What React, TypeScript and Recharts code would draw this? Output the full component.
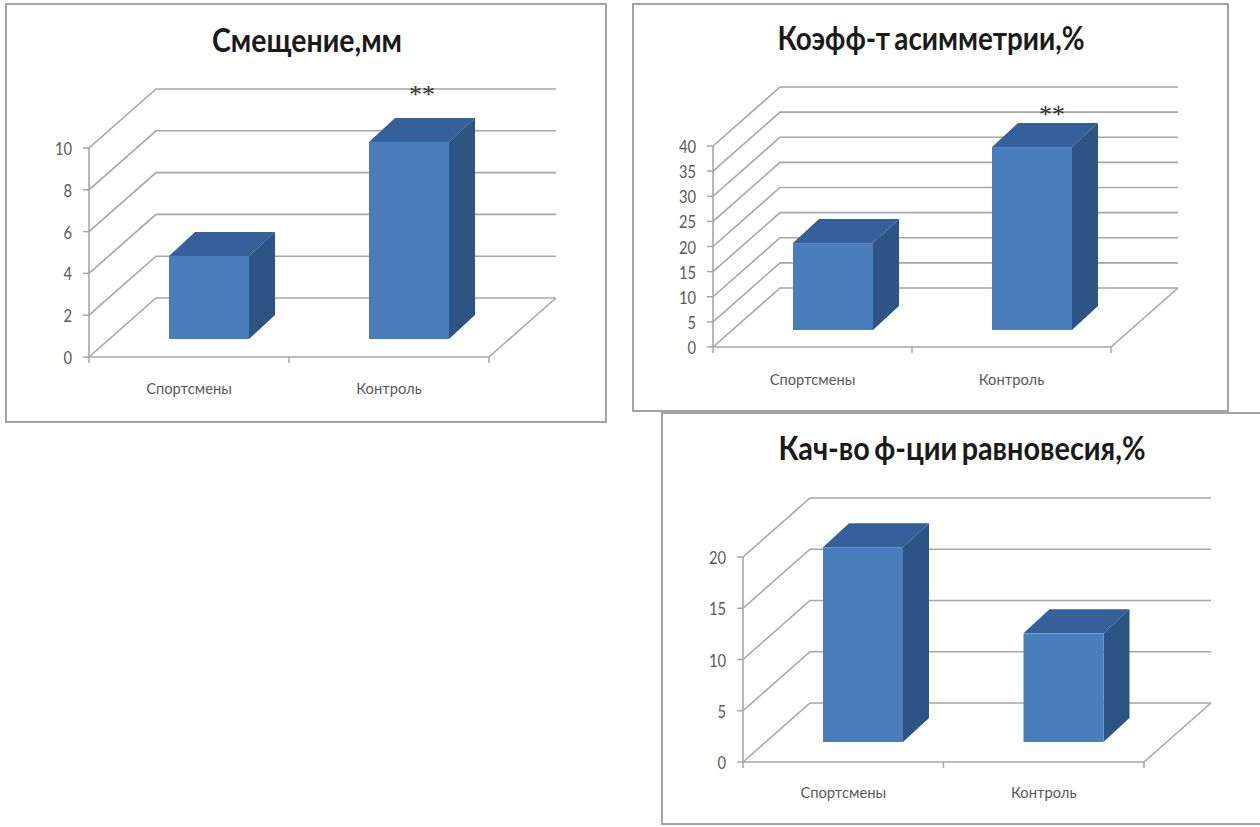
import { BarChart, Bar, CartesianGrid, LabelList, XAxis, YAxis } from 'recharts';

const categories = ['Спортсмены', 'Контроль'];
const significance = ['', '**'];

const displacementValues = [3.97, 9.43];
const displacementTicks = [0, 2, 4, 6, 8, 10];

const asymmetryValues = [17.3, 36.4];
const asymmetryTicks = [0, 5, 10, 15, 20, 25, 30, 35, 40];

const balanceValues = [19.0, 10.6];
const balanceTicks = [0, 5, 10, 15, 20];

const FRONT = '#4a7ebb';
const TOP = '#35609a';
const SIDE = '#2e5485';
const LINE = '#a6a6a6';
const TEXT = '#595959';
const FONT = 'Lato, "Open Sans", sans-serif';

// floor and wall depth of the pseudo-3D box
const WALL_DX = 67;
const WALL_DY = 59;
// bars stand halfway into the floor
const BAR_SHIFT_X = 20;
const BAR_DX = 26;
const BAR_DY = 24;

function Bar3D({ x, y, width, height, lift }: any) {
  const l = x + BAR_SHIFT_X;
  const r = l + width;
  const t = y - lift;
  const b = t + height;
  return (
    <g>
      <polygon points={`${l},${t} ${r},${t} ${r + BAR_DX},${t - BAR_DY} ${l + BAR_DX},${t - BAR_DY}`} fill={TOP} />
      <polygon points={`${r},${t} ${r + BAR_DX},${t - BAR_DY} ${r + BAR_DX},${b - BAR_DY} ${r},${b}`} fill={SIDE} />
      <rect x={l} y={t} width={width} height={height} fill={FRONT} />
    </g>
  );
}

function WallLine({ x1, x2, y1, floorY }: any) {
  const backY = y1 - WALL_DY;
  const isFloor = Math.abs(y1 - floorY) < 1;
  return (
    <g>
      <polyline
        points={`${x1},${y1} ${x1 + WALL_DX},${backY} ${x2 + WALL_DX},${backY}`}
        fill="none"
        stroke={LINE}
        strokeWidth={1.6}
      />
      {isFloor && <line x1={x2} y1={y1} x2={x2 + WALL_DX} y2={backY} stroke={LINE} strokeWidth={1.6} />}
    </g>
  );
}

function ValueTick({ x, y, payload }: any) {
  return (
    <text
      transform={`translate(${x - 9},${y + 7}) scale(0.82,1)`}
      textAnchor="end"
      fontFamily={FONT}
      fontSize={18}
      fill={TEXT}
    >
      {payload.value}
    </text>
  );
}

function CategoryTick({ x, y, index, payload, band, labelDy }: any) {
  return (
    <g>
      <line x1={x - band / 2} y1={y - 8} x2={x - band / 2} y2={y - 2} stroke={LINE} strokeWidth={1.5} />
      {index === categories.length - 1 && (
        <line x1={x + band / 2} y1={y - 8} x2={x + band / 2} y2={y - 2} stroke={LINE} strokeWidth={1.5} />
      )}
      <text
        transform={`translate(${x},${y + labelDy}) scale(0.92,1)`}
        textAnchor="middle"
        fontFamily={FONT}
        fontSize={16}
        fill={TEXT}
      >
        {payload.value}
      </text>
    </g>
  );
}

function Panel({ title, values, ticks, frame, plot, titleAt, mark, labelDy, lift }: any) {
  const frameW = frame.right - frame.left;
  const frameH = frame.bottom - frame.top;
  const rows = categories.map((name, i) => ({ name, value: values[i], mark: significance[i] }));
  const floorY = plot.bottom - frame.top;
  const band = (plot.right - plot.left) / categories.length;
  return (
    <div
      style={{
        position: 'absolute',
        left: frame.left,
        top: frame.top,
        width: frameW,
        height: frameH,
        boxSizing: 'border-box',
        border: '2px solid #a3a3a3',
        background: '#fff',
      }}
    >
      <BarChart
        width={frameW - 4}
        height={frameH - 4}
        data={rows}
        barSize={80}
        margin={{
          top: plot.top - frame.top - 2,
          right: frame.right - plot.right - 2,
          bottom: 0,
          left: 0,
        }}
      >
        <text
          transform={`translate(${titleAt.x - frame.left - 2},${titleAt.y - frame.top - 2}) scale(${titleAt.sx},1)`}
          textAnchor="middle"
          fontFamily={FONT}
          fontWeight={700}
          fontSize={32}
          wordSpacing={-3}
          fill="#1a1a1a"
        >
          {title}
        </text>
        <CartesianGrid
          vertical={false}
          horizontal={(p: any) => <WallLine key={p.y1} {...p} floorY={floorY - 2} />}
        />
        <XAxis
          dataKey="name"
          height={frame.bottom - plot.bottom - 2}
          tickLine={false}
          axisLine={{ stroke: LINE, strokeWidth: 1.6 }}
          interval={0}
          tick={(p: any) => <CategoryTick {...p} band={band} labelDy={labelDy} />}
        />
        <YAxis
          domain={[0, ticks[ticks.length - 1]]}
          ticks={ticks}
          width={plot.left - frame.left - 2}
          tickSize={6}
          tickLine={{ stroke: LINE, strokeWidth: 1.5 }}
          axisLine={{ stroke: LINE, strokeWidth: 1.6 }}
          tick={<ValueTick />}
        />
        <Bar dataKey="value" isAnimationActive={false} shape={(p: any) => <Bar3D {...p} lift={lift} />}>
          {mark && (
            <LabelList
              dataKey="mark"
              content={(p: any) =>
                p.value ? (
                  <text
                    x={p.x + mark.dx}
                    y={p.y + mark.dy}
                    textAnchor="middle"
                    fontFamily='"Liberation Serif", serif'
                    fontSize={26}
                    fill="#333"
                  >
                    {p.value}
                  </text>
                ) : null
              }
            />
          )}
        </Bar>
      </BarChart>
    </div>
  );
}

export default function App() {
  return (
    <div style={{ position: 'absolute', left: 0, top: 0, width: 1260, height: 827, background: '#fff', overflow: 'hidden' }}>
      <Panel
        title="Смещение,мм"
        values={displacementValues}
        ticks={displacementTicks}
        frame={{ left: 5, top: 3, right: 607, bottom: 423 }}
        plot={{ left: 89, top: 148, right: 489, bottom: 357 }}
        titleAt={{ x: 307, y: 52, sx: 0.89 }}
        mark={{ dx: 73, dy: -57 }}
        labelDy={29}
        lift={18}
      />
      <Panel
        title="Коэфф-т асимметрии,%"
        values={asymmetryValues}
        ticks={asymmetryTicks}
        frame={{ left: 632, top: 3, right: 1229, bottom: 412 }}
        plot={{ left: 713, top: 146, right: 1111, bottom: 347 }}
        titleAt={{ x: 931, y: 50, sx: 0.87 }}
        mark={{ dx: 80, dy: -41 }}
        labelDy={30}
        lift={17}
      />
      <Panel
        title="Кач-во ф-ции равновесия,%"
        values={balanceValues}
        ticks={balanceTicks}
        frame={{ left: 661, top: 412, right: 1264, bottom: 825 }}
        plot={{ left: 743, top: 557, right: 1144, bottom: 762 }}
        titleAt={{ x: 962, y: 460, sx: 0.9 }}
        labelDy={28}
        lift={20}
      />
    </div>
  );
}
